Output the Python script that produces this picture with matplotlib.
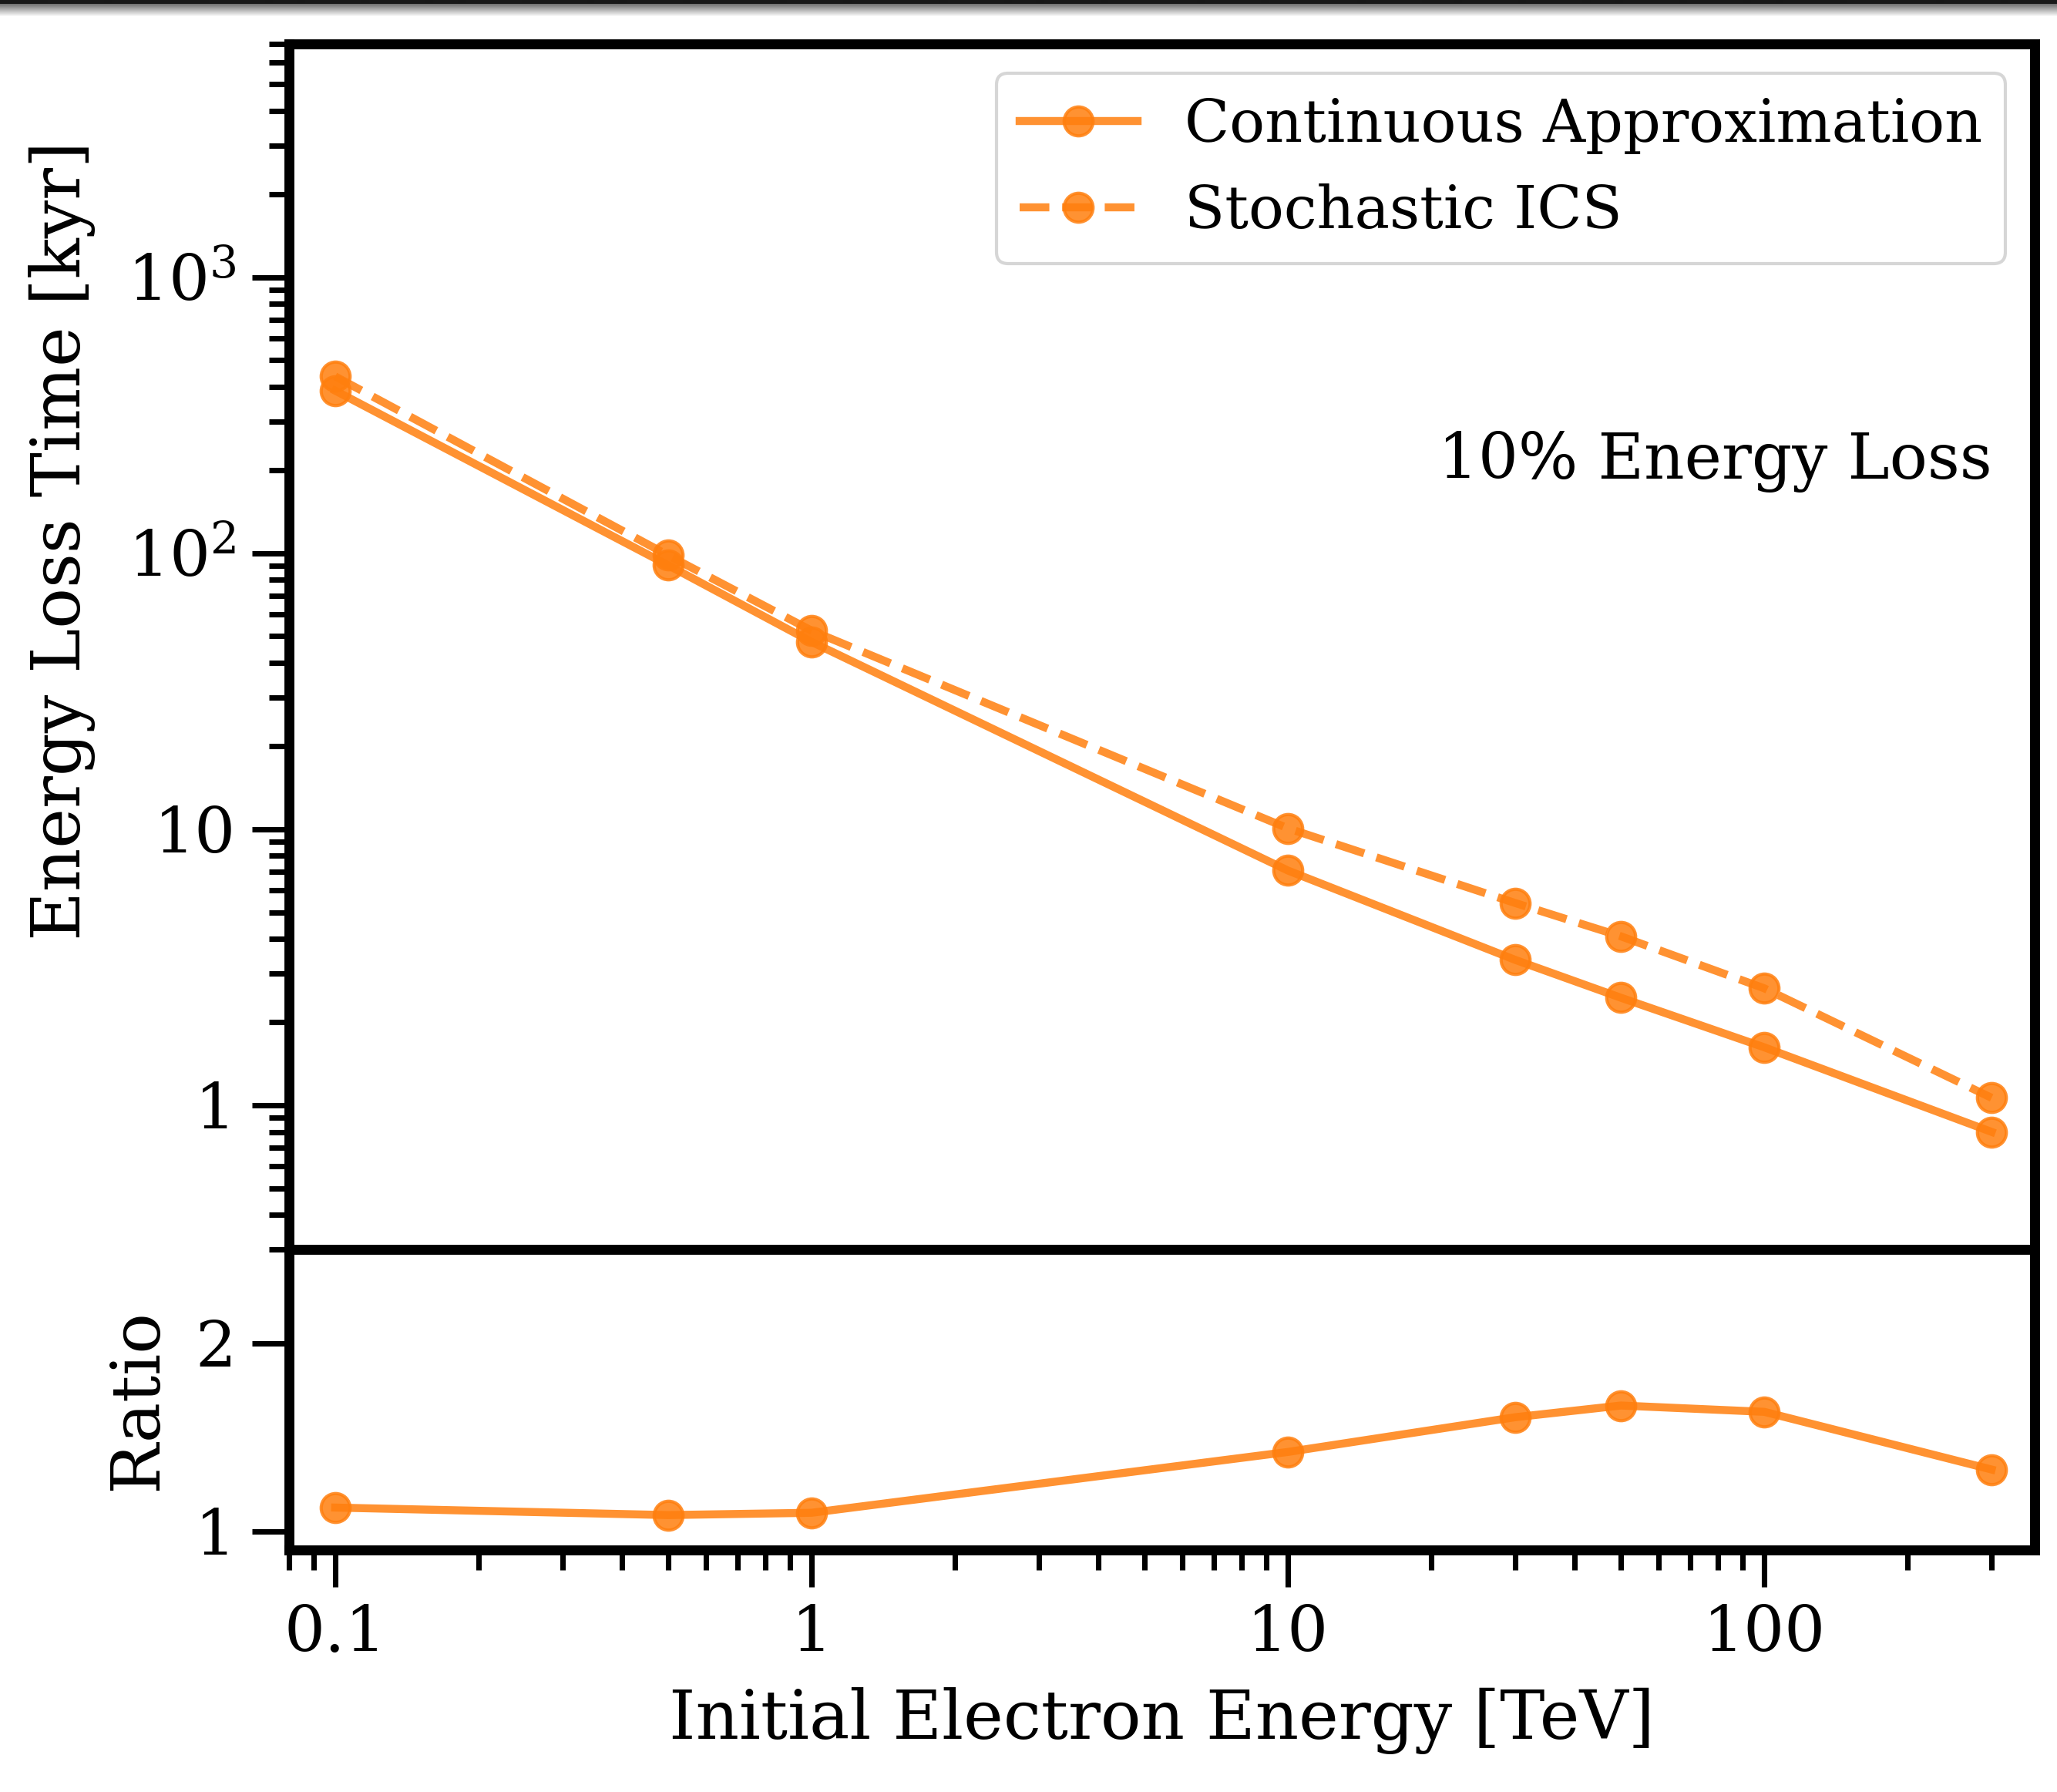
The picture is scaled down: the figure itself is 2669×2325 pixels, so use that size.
import matplotlib
matplotlib.use("Agg")
import matplotlib.pyplot as plt
import numpy as np
from matplotlib.ticker import LogLocator, NullFormatter, FixedLocator, FixedFormatter, NullLocator

# ---------------- data ----------------
energy_tev = [0.1, 0.5, 1, 10, 30, 50, 100, 300]
t_continuous = [388, 90.4, 47.7, 7.08, 3.36, 2.45, 1.62, 0.80]
t_stochastic = [437, 98.2, 52.4, 10.07, 5.40, 4.09, 2.65, 1.063]
ratio = [s / c for s, c in zip(t_stochastic, t_continuous)]

x_ticks = [0.1, 1, 10, 100]
x_ticklabels = ["0.1", "1", "10", "100"]
y_ticks_top = [1, 10, 100, 1000]
y_ticklabels_top = ["1", "10", "$10^2$", "$10^3$"]
y_ticks_ratio = [1, 2]
y_ticklabels_ratio = ["1", "2"]

series_labels = ["Continuous Approximation", "Stochastic ICS"]
annotation = "10% Energy Loss"

# ---------------- style ----------------
plt.rcParams["font.family"] = ["DejaVu Serif"]
plt.rcParams["mathtext.fontset"] = "dejavuserif"
plt.rcParams["font.size"] = 20

color = "tab:orange"
alpha = 0.85
lw = 2.5
ms = 9
spine_w = 3.1

fig = plt.figure(figsize=(2669 / 300, 2325 / 300), dpi=300)
gs = fig.add_gridspec(2, 1, height_ratios=[1564, 390], hspace=0,
                      left=0.1405, right=0.9893, top=0.9755, bottom=0.135)
ax = fig.add_subplot(gs[0])
axr = fig.add_subplot(gs[1], sharex=ax)

ax.plot(energy_tev, t_continuous, "-o", color=color, alpha=alpha, lw=lw, ms=ms,
        label=series_labels[0])
ax.plot(energy_tev, t_stochastic, "--o", color=color, alpha=alpha, lw=lw, ms=ms,
        label=series_labels[1])
axr.plot(energy_tev, ratio, "-o", color=color, alpha=alpha, lw=lw, ms=ms)

for a in (ax, axr):
    a.set_xscale("log")
    for s in a.spines.values():
        s.set_linewidth(spine_w)
ax.set_yscale("log")

ax.set_xlim(0.08, 370)
ax.set_ylim(0.3, 7000)
axr.set_ylim(0.9, 2.5)

axr.xaxis.set_major_locator(FixedLocator(x_ticks))
axr.xaxis.set_major_formatter(FixedFormatter(x_ticklabels))
axr.xaxis.set_minor_locator(LogLocator(base=10, subs=np.arange(2, 10), numticks=50))
axr.xaxis.set_minor_formatter(NullFormatter())

ax.yaxis.set_major_locator(FixedLocator(y_ticks_top))
ax.yaxis.set_major_formatter(FixedFormatter(y_ticklabels_top))
ax.yaxis.set_minor_locator(LogLocator(base=10, subs=np.arange(2, 10), numticks=50))
ax.yaxis.set_minor_formatter(NullFormatter())

axr.yaxis.set_major_locator(FixedLocator(y_ticks_ratio))
axr.yaxis.set_major_formatter(FixedFormatter(y_ticklabels_ratio))
axr.yaxis.set_minor_locator(NullLocator())

for a in (ax, axr):
    a.tick_params(which="major", length=11.5, width=1.7, labelsize=20, pad=5,
                  top=False, right=False)
    a.tick_params(which="minor", length=6.2, width=1.7, top=False, right=False)
ax.tick_params(axis="x", which="both", bottom=False, labelbottom=False)

ax.set_ylabel("Energy Loss Time [kyr]", fontsize=21)
ax.yaxis.set_label_coords(-0.111, 0.588)
axr.set_ylabel("Ratio", fontsize=21)
axr.yaxis.set_label_coords(-0.0677, 0.5)
axr.set_xlabel("Initial Electron Energy [TeV]", fontsize=21, labelpad=7)

ax.legend(loc="upper right", fontsize=18.3)
ax.text(300, 214, annotation, ha="right", va="center", fontsize=19.6)

# top window-shadow band of the screenshot
band = fig.add_axes([0, 1 - 22 / 2325, 1, 22 / 2325])
grad = np.concatenate([np.full(5, 0.1), np.linspace(0.45, 1.0, 17)])[:, None]
band.imshow(grad, aspect="auto", cmap="gray", vmin=0, vmax=1,
            extent=[0, 1, 0, 1], interpolation="bilinear")
band.axis("off")

fig.savefig("out.png", dpi=300)
